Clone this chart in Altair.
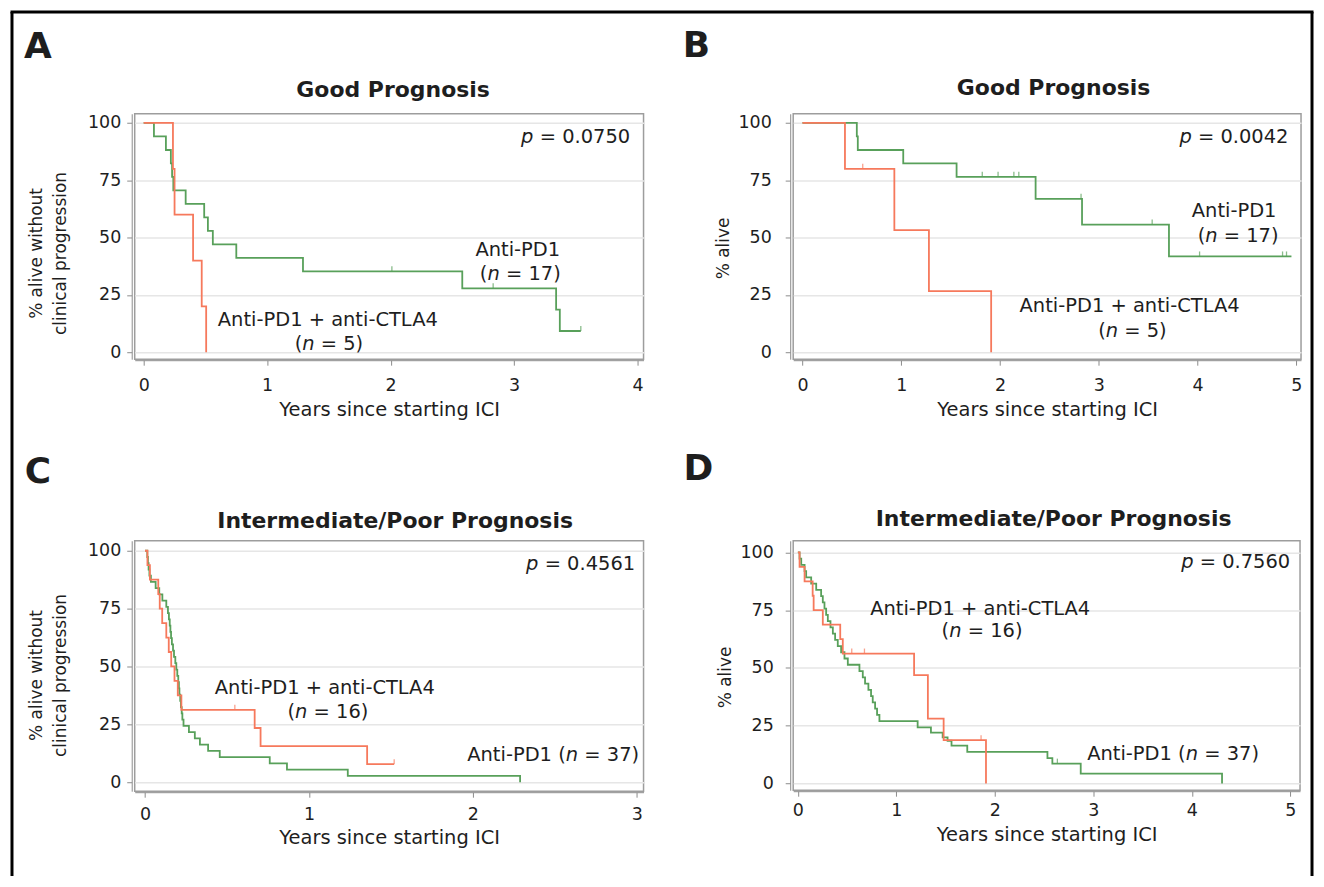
import altair as alt
import pandas as pd

FONT = "DejaVu Sans"
TXT = "#1e1e1e"
GREEN = "#58a05a"
ORANGE = "#f6795c"

# ---------------- data ----------------
# Panel A: Good prognosis, PFS
A_pd1_t = [0, 0.083, 0.18, 0.22, 0.23, 0.24, 0.34, 0.49, 0.52, 0.56, 0.75, 1.29, 2.58, 3.34, 3.37, 3.54]
A_pd1_s = [100, 94.1, 88.2, 82.4, 76.5, 70.6, 64.7, 58.8, 52.9, 47.1, 41.2, 35.3, 27.9, 18.6, 9.3, 9.3]
A_pd1_cens_t = [2.01, 2.83, 3.54]
A_pd1_cens_s = [35.3, 27.9, 9.3]
A_combo_t = [0, 0.237, 0.25, 0.40, 0.47, 0.506]
A_combo_s = [100, 80, 60, 40, 20, 0]
A_combo_cens_t = []
A_combo_cens_s = []

# Panel B: Good prognosis, OS
B_pd1_t = [0, 0.55, 0.56, 1.02, 1.56, 2.36, 2.83, 3.71, 4.95]
B_pd1_s = [100, 94.1, 88.2, 82.4, 76.5, 66.9, 55.7, 41.8, 41.8]
B_pd1_cens_t = [1.82, 1.98, 2.14, 2.19, 2.82, 3.54, 4.02, 4.86, 4.90]
B_pd1_cens_s = [76.5, 76.5, 76.5, 76.5, 66.9, 55.7, 41.8, 41.8, 41.8]
B_combo_t = [0, 0.43, 0.93, 1.28, 1.91]
B_combo_s = [100, 80, 53.3, 26.7, 0]
B_combo_cens_t = [0.61]
B_combo_cens_s = [80]

# Panel C: Intermediate/poor prognosis, PFS
C_pd1_t = [0, 0.014, 0.018, 0.022, 0.027, 0.036, 0.065, 0.087, 0.106, 0.130, 0.140,
           0.146, 0.151, 0.155, 0.159, 0.164, 0.171, 0.177, 0.185, 0.191, 0.197,
           0.203, 0.207, 0.210, 0.215, 0.219, 0.224, 0.228, 0.235, 0.268, 0.304,
           0.335, 0.385, 0.456, 0.761, 0.866, 1.237, 2.288]
C_pd1_s = [100, 97.3, 94.6, 91.9, 89.2, 86.5, 83.8, 81.1, 78.4, 75.7, 73.0,
           70.3, 67.6, 64.9, 62.2, 59.5, 56.8, 54.1, 51.4, 48.6, 45.9,
           43.2, 40.5, 37.8, 35.1, 32.4, 29.7, 27.0, 24.3, 21.6, 18.9,
           16.2, 13.5, 10.8, 8.1, 5.4, 2.7, 0]
C_pd1_cens_t = []
C_pd1_cens_s = []
C_combo_t = [0, 0.015, 0.03, 0.081, 0.09, 0.105, 0.13, 0.145, 0.16, 0.18, 0.2, 0.222, 0.669, 0.705, 1.355, 1.52]
C_combo_s = [100, 93.75, 87.5, 81.25, 75, 68.75, 62.5, 56.25, 50, 43.75, 37.5, 31.25, 23.4, 15.6, 7.8, 7.8]
C_combo_cens_t = [0.548, 1.52]
C_combo_cens_s = [31.25, 7.8]

# Panel D: Intermediate/poor prognosis, OS
D_pd1_t = [0, 0.017, 0.034, 0.068, 0.084, 0.135, 0.186, 0.236, 0.253, 0.270, 0.287,
           0.304, 0.331, 0.355, 0.378, 0.405, 0.439, 0.473, 0.507, 0.625, 0.659,
           0.682, 0.716, 0.743, 0.760, 0.784, 0.804, 0.828, 1.216, 1.351, 1.47,
           1.52, 1.56, 1.72, 2.534, 2.584, 2.872, 4.307]
D_pd1_s = [100, 97.3, 94.6, 91.9, 89.2, 86.5, 83.8, 81.1, 78.4, 75.7, 73.0,
           70.3, 67.6, 64.9, 62.2, 59.5, 56.8, 54.1, 51.4, 48.6, 45.9,
           43.2, 40.5, 37.8, 35.1, 32.4, 29.7, 27.0, 24.3, 22.0, 20.0,
           18.5, 16.4, 13.7, 11.0, 8.6, 4.3, 0]
D_pd1_cens_t = [2.635]
D_pd1_cens_s = [8.6]
D_combo_t = [0, 0.017, 0.068, 0.15, 0.16, 0.253, 0.43, 0.456, 1.18, 1.32, 1.48, 1.91]
D_combo_s = [100, 93.75, 87.5, 81.25, 75, 68.75, 62.5, 56.25, 46.9, 28.1, 18.75, 0]
D_combo_cens_t = [0.547, 0.676, 1.86]
D_combo_cens_s = [56.25, 56.25, 18.75]

Y_TICKS = [0, 25, 50, 75, 100]
X_TITLE = "Years since starting ICI"

# ---------------- helpers ----------------
CW = {" ": 318, "(": 390, ")": 390, "=": 838, ".": 318, "n": 634, "p": 635, "A": 684,
      "t": 392, "i": 278, "-": 361, "P": 603, "D": 770, "+": 838, "a": 613, "C": 698,
      "T": 611, "L": 557}


def tw(s, size):
    return sum(CW.get(c, 636) for c in s) / 1000.0 * size


def enc(sx, sy, xa, ya):
    return dict(x=alt.X("t:Q", scale=sx, axis=xa), y=alt.Y("s:Q", scale=sy, axis=ya))


def segs(parts, x, y, sx, sy, xa, ya, align="center", size=19.5):
    widths = [tw(s, size) for s, _ in parts]
    total = sum(widths)
    cum = {"center": -total / 2, "left": 0.0, "right": -total}[align]
    out = []
    for (s, it), w in zip(parts, widths):
        lead = len(s) - len(s.lstrip(" "))
        txt = s.strip(" ")
        if txt:
            df = pd.DataFrame({"t": [x], "s": [y], "lab": [txt]})
            kw = dict(align="left", baseline="middle", dx=cum + tw(" " * lead, size),
                      font=FONT, fontSize=size, color=TXT)
            if it:
                kw["fontStyle"] = "italic"
            out.append(alt.Chart(df).mark_text(**kw).encode(text="lab:N", **enc(sx, sy, xa, ya)))
        cum += w
    return out


def fixed(txt, px, py, size, weight="normal", angle=None):
    df = pd.DataFrame({"lab": [txt]})
    kw = dict(align="center", baseline="middle", font=FONT, fontSize=size,
              fontWeight=weight, color=TXT)
    if angle is not None:
        kw["angle"] = angle
    return alt.Chart(df).mark_text(**kw).encode(
        x=alt.value(px), y=alt.value(py), text="lab:N")


def panel(curves, cens, xdom, ydom, w, h, xticks, xlab_pad, xtitle_y, ylab_pad,
          letter, letter_pos, title, title_pos, ytitles, notes, extra=None):
    sx = alt.Scale(domain=xdom, nice=False, zero=False)
    sy = alt.Scale(domain=ydom, nice=False, zero=False)
    xa = alt.Axis(values=xticks, title=X_TITLE, grid=False, offset=1, tickSize=5,
                  labelPadding=xlab_pad, titleY=xtitle_y, titleBaseline="top", format="d")
    ya = alt.Axis(values=Y_TICKS, title=None, grid=True, offset=3, tickSize=5,
                  labelPadding=ylab_pad, format="d")
    layers = []
    for t, s, col in curves:
        df = pd.DataFrame({"t": t, "s": s})
        layers.append(alt.Chart(df).mark_line(interpolate="step-after", color=col,
                                              strokeWidth=1.8).encode(**enc(sx, sy, xa, ya)))
    for t, s, col in cens:
        if not t:
            continue
        df = pd.DataFrame({"t": t, "s": s})
        layers.append(alt.Chart(df).mark_tick(orient="vertical", color=col, size=5,
                                              thickness=1.3, yOffset=-2.5).encode(**enc(sx, sy, xa, ya)))
    for parts, x, y, align in notes:
        layers.extend(segs(parts, x, y, sx, sy, xa, ya, align=align))
    layers.append(fixed(letter, letter_pos[0], letter_pos[1], 36, weight="bold"))
    layers.append(fixed(title, title_pos[0], title_pos[1], 22, weight="bold"))
    for txt, px, py in ytitles:
        layers.append(fixed(txt, px, py, 17, angle=270))
    if extra:
        layers.extend(extra)
    return alt.layer(*layers).properties(width=w, height=h)


# outer black frame (open at the bottom, as cropped in the figure)
one = pd.DataFrame({"k": [0]})
frame = [
    alt.Chart(one).mark_rule(color="black", strokeWidth=3).encode(
        x=alt.value(-123), y=alt.value(-102), y2=alt.value(764)),
    alt.Chart(one).mark_rule(color="black", strokeWidth=3).encode(
        x=alt.value(-124.5), x2=alt.value(1181.5), y=alt.value(-102)),
    alt.Chart(one).mark_rule(color="black", strokeWidth=3).encode(
        x=alt.value(1180), y=alt.value(-102), y2=alt.value(764)),
]

nb = lambda k: [("(", False), ("n", True), (f" = {k})", False)]

A = panel(
    curves=[(A_pd1_t, A_pd1_s, GREEN), (A_combo_t, A_combo_s, ORANGE)],
    cens=[(A_pd1_cens_t, A_pd1_cens_s, GREEN), (A_combo_cens_t, A_combo_cens_s, ORANGE)],
    xdom=[-0.0727, 4.048], ydom=[-3, 104], w=510, h=246, xticks=[0, 1, 2, 3, 4],
    xlab_pad=11, xtitle_y=40, ylab_pad=6,
    letter="A", letter_pos=(-97, -67), title="Good Prognosis", title_pos=(259, -24),
    ytitles=[("% alive without", -98, 140), ("clinical progression", -74, 140)],
    notes=[([("p", True), (" = 0.0750", False)], 3.94, 93.9, "right"),
           ([("Anti-PD1", False)], 3.03, 44.5, "center"),
           (nb(17), 3.05, 34, "center"),
           ([("Anti-PD1 + anti-CTLA4", False)], 1.49, 14, "center"),
           (nb(5), 1.50, 3.5, "center")],
    extra=frame)

B = panel(
    curves=[(B_pd1_t, B_pd1_s, GREEN), (B_combo_t, B_combo_s, ORANGE)],
    cens=[(B_pd1_cens_t, B_pd1_cens_s, GREEN), (B_combo_cens_t, B_combo_cens_s, ORANGE)],
    xdom=[-0.094, 5.047], ydom=[-3, 104], w=509, h=246, xticks=[0, 1, 2, 3, 4, 5],
    xlab_pad=11, xtitle_y=40, ylab_pad=14,
    letter="B", letter_pos=(-97, -68), title="Good Prognosis", title_pos=(261, -26),
    ytitles=[("% alive", -69, 135)],
    notes=[([("p", True), (" = 0.0042", False)], 4.92, 93.9, "right"),
           ([("Anti-PD1", False)], 4.37, 61.5, "center"),
           (nb(17), 4.41, 50.6, "center"),
           ([("Anti-PD1 + anti-CTLA4", False)], 3.31, 20.3, "center"),
           (nb(5), 3.34, 9.5, "center")])

C = panel(
    curves=[(C_pd1_t, C_pd1_s, GREEN), (C_combo_t, C_combo_s, ORANGE)],
    cens=[(C_pd1_cens_t, C_pd1_cens_s, GREEN), (C_combo_cens_t, C_combo_cens_s, ORANGE)],
    xdom=[-0.0627, 3.041], ydom=[-3.9, 104.3], w=510, h=251, xticks=[0, 1, 2, 3],
    xlab_pad=8, xtitle_y=36, ylab_pad=6,
    letter="C", letter_pos=(-97, -69), title="Intermediate/Poor Prognosis", title_pos=(261, -20),
    ytitles=[("% alive without", -98, 135), ("clinical progression", -74, 135)],
    notes=[([("p", True), (" = 0.4561", False)], 2.99, 94.4, "right"),
           ([("Anti-PD1 + anti-CTLA4", False)], 1.096, 40.5, "center"),
           (nb(16), 1.116, 30.2, "center"),
           ([("Anti-PD1 (", False), ("n", True), (" = 37)", False)], 2.49, 11.6, "center")])

D = panel(
    curves=[(D_pd1_t, D_pd1_s, GREEN), (D_combo_t, D_combo_s, ORANGE)],
    cens=[(D_pd1_cens_t, D_pd1_cens_s, GREEN), (D_combo_cens_t, D_combo_cens_s, ORANGE)],
    xdom=[-0.0476, 5.099], ydom=[-2.9, 105.05], w=508, h=250, xticks=[0, 1, 2, 3, 4, 5],
    xlab_pad=5, xtitle_y=34, ylab_pad=12,
    letter="D", letter_pos=(-95, -72), title="Intermediate/Poor Prognosis", title_pos=(261, -22),
    ytitles=[("% alive", -67, 137)],
    notes=[([("p", True), (" = 0.7560", False)], 5.0, 95.7, "right"),
           ([("Anti-PD1 + anti-CTLA4", False)], 1.85, 75.5, "center"),
           (nb(16), 1.87, 65.8, "center"),
           ([("Anti-PD1 (", False), ("n", True), (" = 37)", False)], 3.81, 12.7, "center")])

chart = alt.concat(
    A, B, C, D, columns=2, spacing={"row": 182, "column": 150}, bounds="flush", padding=0
).configure_view(
    stroke="#9d9d9d", strokeWidth=1.5
).configure_axis(
    labelFont=FONT, labelFontSize=17.5, labelColor=TXT,
    titleFont=FONT, titleFontSize=19.5, titleColor=TXT, titleFontWeight="normal",
    domainColor="#8c8c8c", tickColor="#8c8c8c", gridColor="#e6e6e6", gridWidth=1.5,
)

chart.save("out.html", embed_options={"renderer": "svg", "actions": False})
